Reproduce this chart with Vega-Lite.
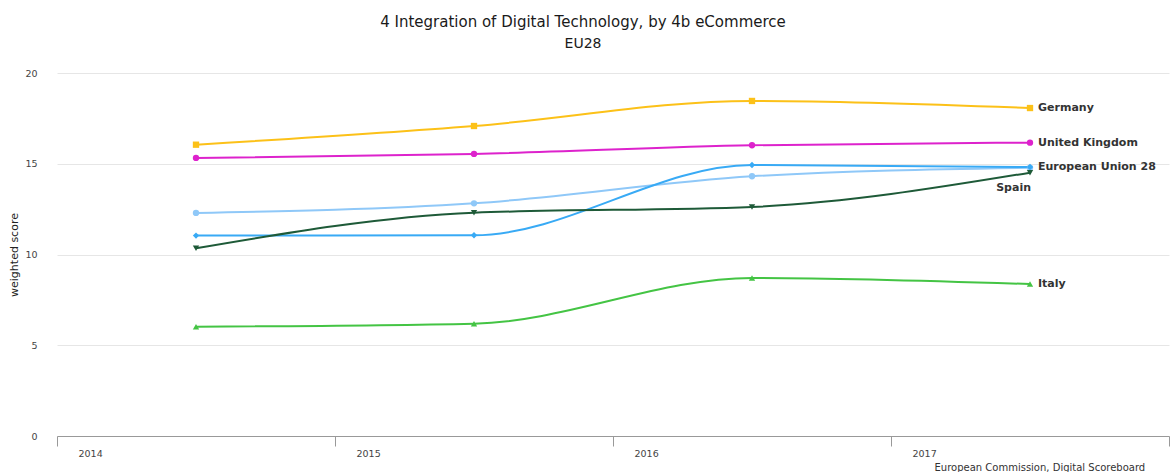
{
  "$schema": "https://vega.github.io/schema/vega-lite/v6.json",
  "autosize": {"type": "none"},
  "padding": {"left": 57, "top": 73, "right": 3, "bottom": 36},
  "width": 1112,
  "height": 363,
  "background": "white",
  "config": {
    "view": {"stroke": null},
    "font": "DejaVu Sans"
  },
  "title": {
    "text": "4 Integration of Digital Technology, by 4b eCommerce",
    "subtitle": "EU28",
    "fontSize": 15,
    "subtitleFontSize": 14,
    "fontWeight": "normal",
    "color": "#1a1a1a",
    "subtitleColor": "#1a1a1a",
    "subtitlePadding": 7,
    "anchor": "middle",
    "dx": -30,
    "offset": 17
  },
  "data": {
    "values": [
      {"series": "Germany", "year": "2014", "score": 16.05},
      {"series": "Germany", "year": "2015", "score": 17.08},
      {"series": "Germany", "year": "2016", "score": 18.46},
      {"series": "Germany", "year": "2017", "score": 18.07},
      {"series": "United Kingdom", "year": "2014", "score": 15.32},
      {"series": "United Kingdom", "year": "2015", "score": 15.54},
      {"series": "United Kingdom", "year": "2016", "score": 16.02},
      {"series": "United Kingdom", "year": "2017", "score": 16.16},
      {"series": "Other country", "year": "2014", "score": 12.29},
      {"series": "Other country", "year": "2015", "score": 12.82},
      {"series": "Other country", "year": "2016", "score": 14.31},
      {"series": "Other country", "year": "2017", "score": 14.78},
      {"series": "European Union 28", "year": "2014", "score": 11.04},
      {"series": "European Union 28", "year": "2015", "score": 11.06},
      {"series": "European Union 28", "year": "2016", "score": 14.93},
      {"series": "European Union 28", "year": "2017", "score": 14.82},
      {"series": "Spain", "year": "2014", "score": 10.34},
      {"series": "Spain", "year": "2015", "score": 12.3},
      {"series": "Spain", "year": "2016", "score": 12.62},
      {"series": "Spain", "year": "2017", "score": 14.51},
      {"series": "Italy", "year": "2014", "score": 6.02},
      {"series": "Italy", "year": "2015", "score": 6.19},
      {"series": "Italy", "year": "2016", "score": 8.71},
      {"series": "Italy", "year": "2017", "score": 8.37}
    ]
  },
  "encoding": {
    "x": {
      "field": "year",
      "type": "ordinal",
      "bandPosition": 0.5,
      "scale": {"type": "band", "paddingInner": 0, "paddingOuter": 0},
      "axis": {
        "tickBand": "extent",
        "labelAngle": 0,
        "labelAlign": "left",
        "labelOffset": -118,
        "labelPadding": 2,
        "labelFontSize": 9.5,
        "labelColor": "#444444",
        "tickSize": 10,
        "tickColor": "#999999",
        "domainColor": "#999999",
        "grid": false,
        "title": "European Commission, Digital Scoreboard",
        "titleX": 877,
        "titleY": 34,
        "titleAlign": "left",
        "titleAnchor": null,
        "titleBaseline": "alphabetic",
        "titleFontSize": 10,
        "titleFontWeight": "normal",
        "titleColor": "#333333"
      }
    },
    "y": {
      "field": "score",
      "type": "quantitative",
      "scale": {"domain": [0, 20], "nice": false},
      "axis": {
        "values": [0, 5, 10, 15, 20],
        "domain": false,
        "ticks": false,
        "gridColor": "#e6e6e6",
        "labelPadding": 20,
        "labelFontSize": 9.5,
        "labelColor": "#444444",
        "title": "weighted score",
        "titleFontSize": 11,
        "titleFontWeight": "normal",
        "titleColor": "#222222",
        "titlePadding": 5
      }
    },
    "color": {
      "field": "series",
      "type": "nominal",
      "legend": null,
      "scale": {
        "domain": ["Germany", "United Kingdom", "Other country", "European Union 28", "Spain", "Italy"],
        "range": ["#fcc118", "#dd22cc", "#8fc8f8", "#38aaf5", "#1e5a38", "#44c444"]
      }
    }
  },
  "layer": [
    {
      "mark": {"type": "line", "interpolate": "monotone", "strokeWidth": 2},
      "encoding": {"detail": {"field": "series"}}
    },
    {
      "mark": {"type": "point", "filled": true, "opacity": 1, "size": 40},
      "encoding": {
        "shape": {
          "field": "series",
          "type": "nominal",
          "legend": null,
          "scale": {
            "domain": ["Germany", "United Kingdom", "Other country", "European Union 28", "Spain", "Italy"],
            "range": ["square", "circle", "circle", "diamond", "triangle-down", "triangle-up"]
          }
        }
      }
    },
    {
      "transform": [
        {"filter": "datum.year == '2017' && datum.series != 'Spain' && datum.series != 'Other country'"}
      ],
      "mark": {"type": "text", "align": "left", "baseline": "middle", "dx": 8, "fontSize": 11, "fontWeight": "bold", "color": "#333333"},
      "encoding": {
        "text": {"field": "series"},
        "color": {"value": "#333333"}
      }
    },
    {
      "transform": [
        {"filter": "datum.year == '2017' && datum.series == 'Spain'"}
      ],
      "mark": {"type": "text", "align": "right", "baseline": "middle", "dx": 1, "dy": 15, "fontSize": 11, "fontWeight": "bold", "color": "#333333"},
      "encoding": {
        "text": {"field": "series"},
        "color": {"value": "#333333"}
      }
    }
  ]
}
